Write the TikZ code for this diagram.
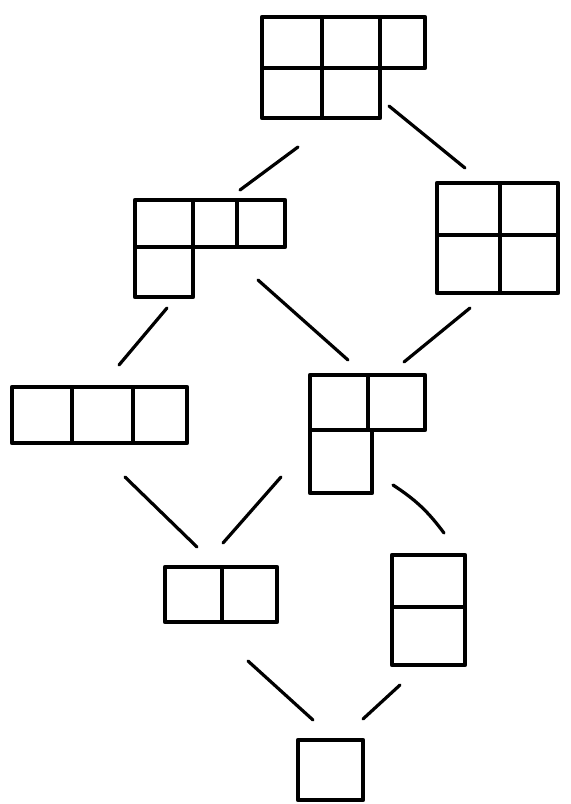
\documentclass[tikz,border=0pt]{standalone}
\usetikzlibrary{positioning}
\begin{document}
\begin{tikzpicture}[
  x=0.5mm, y=-0.5mm,
  cell/.style={draw, line width=2.3mm, line join=round, line cap=round},
  edge/.style={draw, line width=1.6mm, line cap=round}
]
\useasboundingbox (0,0) rectangle (571,804);

% (3,2)
\foreach \xa/\xb/\ya/\yb in {262/322/17/68, 322/380/17/68, 380/425/17/68,
                             262/322/68/118, 322/380/68/118}
  \draw[cell] (\xa,\ya) rectangle (\xb,\yb);
% (3,1)
\foreach \xa/\xb/\ya/\yb in {135/193/200/247, 193/237/200/247, 237/285/200/247,
                             135/193/247/297}
  \draw[cell] (\xa,\ya) rectangle (\xb,\yb);
% (2,2)
\foreach \xa/\xb/\ya/\yb in {437/500/183/235, 500/558/183/235,
                             437/500/235/293, 500/558/235/293}
  \draw[cell] (\xa,\ya) rectangle (\xb,\yb);
% (3)
\foreach \xa/\xb/\ya/\yb in {12/72/387/443, 72/133/387/443, 133/187/387/443}
  \draw[cell] (\xa,\ya) rectangle (\xb,\yb);
% (2,1)
\foreach \xa/\xb/\ya/\yb in {310/368/375/430, 368/425/375/430,
                             310/372/430/493}
  \draw[cell] (\xa,\ya) rectangle (\xb,\yb);
% (2)
\foreach \xa/\xb/\ya/\yb in {165/222/567/622, 222/277/567/622}
  \draw[cell] (\xa,\ya) rectangle (\xb,\yb);
% (1,1)
\foreach \xa/\xb/\ya/\yb in {392/465/555/607, 392/465/607/665}
  \draw[cell] (\xa,\ya) rectangle (\xb,\yb);
% (1)
\draw[cell] (298,740) rectangle (363,800);

% connector ends
\coordinate (t32-l) at (298,147);
\coordinate (t32-r) at (389,106);
\coordinate (m31-u) at (240,190);
\coordinate (m31-dl) at (167,308);
\coordinate (m31-dr) at (258,280);
\coordinate (m22-u) at (465,168);
\coordinate (m22-d) at (470,308);
\coordinate (r3-u) at (119,365);
\coordinate (r3-d) at (125,477);
\coordinate (r21-ul) at (348,360);
\coordinate (r21-ur) at (404,362);
\coordinate (r21-dl) at (281,477);
\coordinate (r21-dr) at (393,485);
\coordinate (b2-ul) at (197,547);
\coordinate (b2-ur) at (223,543);
\coordinate (b2-d) at (248,661);
\coordinate (b11-u) at (444,533);
\coordinate (b11-d) at (400,685);
\coordinate (b1-l) at (313,720);
\coordinate (b1-r) at (363,719);

\draw[edge] (t32-l) -- (m31-u);
\draw[edge] (t32-r) -- (m22-u);
\draw[edge] (m31-dl) -- (r3-u);
\draw[edge] (m31-dr) -- (r21-ul);
\draw[edge] (m22-d) -- (r21-ur);
\draw[edge] (r3-d) -- (b2-ul);
\draw[edge] (r21-dl) -- (b2-ur);
\draw[edge] (r21-dr) to[bend left=10] (b11-u);
\draw[edge] (b2-d) -- (b1-l);
\draw[edge] (b11-d) -- (b1-r);

\end{tikzpicture}
\end{document}
